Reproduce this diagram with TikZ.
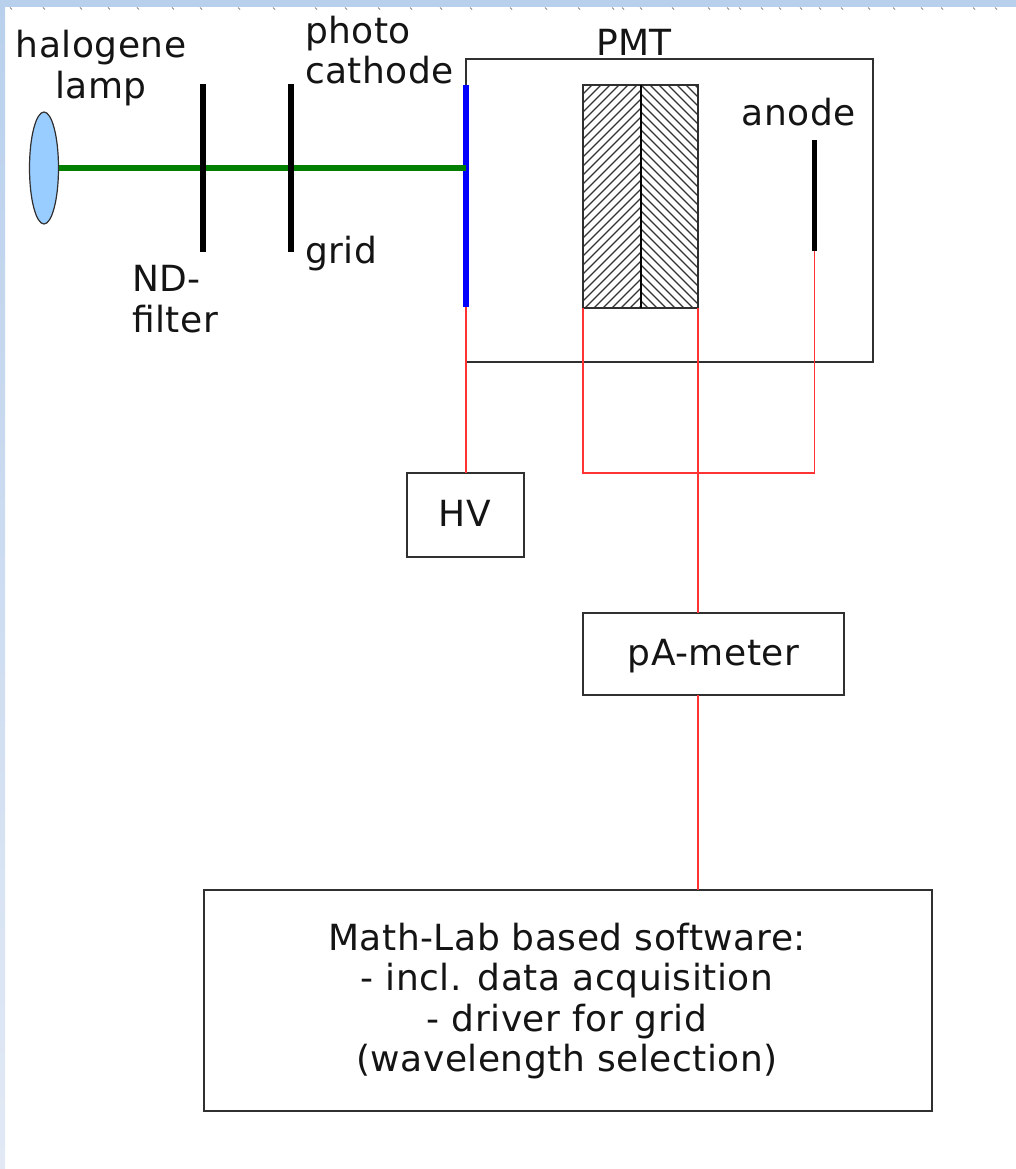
\documentclass[tikz,border=0pt]{standalone}
\usepackage{fontspec}
\setmainfont[LetterSpace=1.5]{DejaVu Sans}
\usetikzlibrary{shapes.geometric}
\definecolor{wire}{HTML}{FF3333}
\definecolor{beam}{HTML}{007F00}
\definecolor{lampfill}{HTML}{99CCFF}
\definecolor{edge}{HTML}{303030}
\definecolor{frameTop}{HTML}{B9D0EC}
\definecolor{frameBot}{HTML}{E2E9F5}
\tikzset{
  x=1pt,y=-1pt,
  box/.style={draw=edge,line width=1.5pt,fill=white,rectangle,inner sep=0pt,outer sep=0pt},
  bar/.style={rectangle,fill=black,draw=none,inner sep=0pt,outer sep=0pt,minimum width=5.5pt},
  lbl/.style={inner sep=0pt,outer sep=0pt,font=\fontsize{36}{40.5}\selectfont,text=black!92},
  wirel/.style={draw=wire,line width=1.7pt},
  hatchl/.style={draw=black!80,line width=1.25pt},
}
\begin{document}
\begin{tikzpicture}
\useasboundingbox (0,0) rectangle (1016,1169);
\fill[white] (0,0) rectangle (1016,1169);
\shade[top color=frameTop,bottom color=frameBot,draw=none] (0,0) rectangle (5,1169);
\fill[frameTop] (0,0) rectangle (1016,7);
\foreach \t in {10,43,80,108,137,172,200,238,273,315,345,378,410,440,470,510,545,578,612,622,640,672,708,727,739,761,779,800,819,841,868,893,921,941,973,995}
  \draw[black!45,line width=0.8pt] (\t,7.5) -- (\t+2,9.5);

% PMT housing
\node[box,minimum width=407pt,minimum height=303pt] (pmt) at (669.5,210.5) {};

% Dynode stack
\node[box,fill=none,minimum width=58pt,minimum height=223pt] (dynL) at (612,196.5) {};
\node[box,fill=none,minimum width=57pt,minimum height=223pt] (dynR) at (669.5,196.5) {};
\begin{scope}
  \clip (583,85) rectangle (641,308);
  \foreach \k in {0,...,32}
    \draw[hatchl] (583,85+9.0*\k) -- ++(58,-58);
\end{scope}
\begin{scope}
  \clip (641,85) rectangle (698,308);
  \foreach \k in {-7,...,25}
    \draw[hatchl] (641,85+9.0*\k) -- ++(57,57);
\end{scope}
\draw[edge,line width=1.5pt] (dynL.north west) rectangle (dynR.south east);
\draw[black,line width=2pt] (dynL.north east) -- (dynL.south east);

% Equipment
\node[box,minimum width=117pt,minimum height=84pt] (hv) at (465.5,515) {};
\node[lbl] (hvlbl) at (465,513) {HV};
\node[box,minimum width=261pt,minimum height=82pt] (pa) at (713.5,654) {};
\node[lbl] (palbl) at (713.5,656) {pA-meter};
\node[box,minimum width=728pt,minimum height=221pt] (sw) at (568,1000.5) {};
\node[lbl,align=center] (swt) at (567,1001) {Math-Lab based software:\\- incl. data acquisition\\- driver for grid\\(wavelength selection)};

% Optical elements
\node[ellipse,draw=edge,line width=1.2pt,fill=lampfill,minimum width=29pt,minimum height=112pt,inner sep=0pt,outer sep=0pt] (lamp) at (44,168) {};
\node[bar,fill=blue,minimum width=6pt,minimum height=222pt] (cathbar) at (466,196) {};
\draw[beam,line width=6pt] (lamp.east) -- (cathbar.center |- lamp.east);
\node[bar,minimum height=167pt] (filt) at (203,168) {};
\node[bar,minimum height=167pt] (gridbar) at (291,168) {};
\node[bar,minimum height=111pt] (an) at (814.5,195.5) {};

% Wiring
\draw[wirel] (cathbar.south) -- (cathbar.south |- hv.north);
\draw[wirel] (dynL.south west) -- (dynL.south west |- hv.north) -| (an.south);
\draw[wirel] (dynR.south east) -- (dynR.south east |- pa.north);
\draw[wirel] (dynR.south east |- pa.south) -- (dynR.south east |- sw.north);

% Labels
\node[lbl,align=center] (lamplbl) at (101,68) {halogene\\lamp};
\node[lbl,align=left,anchor=west] (pclbl) at (305,50) {photo\\cathode};
\node[lbl,align=left,anchor=west] (ndlbl) at (132,299) {ND-\\filter};
\node[lbl,anchor=west] (gridlbl) at (305,254) {grid};
\node[lbl] (pmtlbl) at (634,42) {PMT};
\node[lbl] (anlbl) at (799,112.5) {anode};
\end{tikzpicture}
\end{document}
